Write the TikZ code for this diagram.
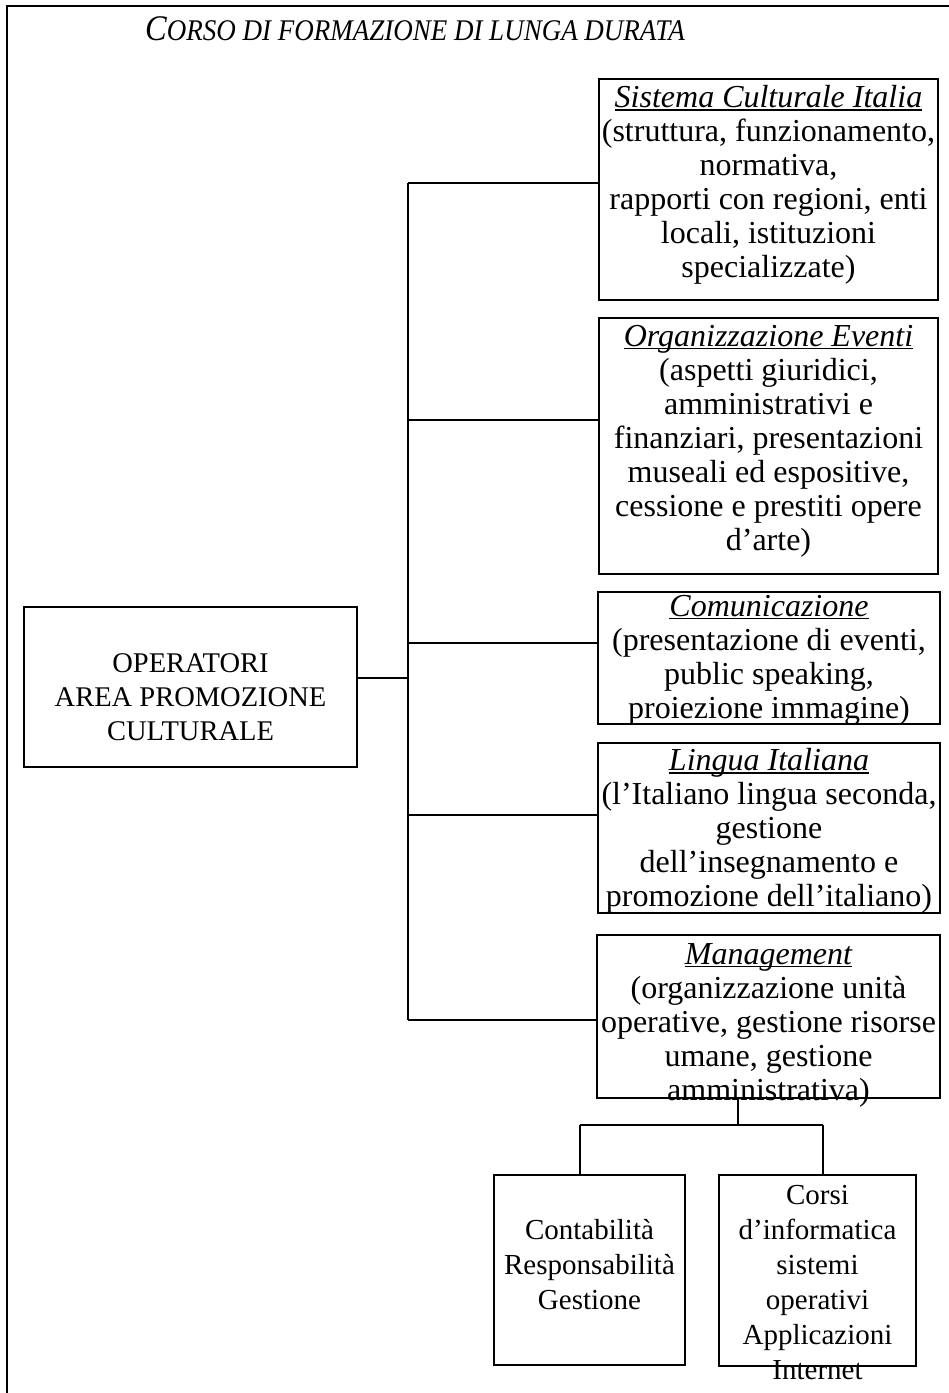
\documentclass[tikz,border=0pt]{standalone}
\usepackage{fontspec}
\setmainfont{Liberation Serif}
\newcommand\undl[1]{\setbox0\hbox{#1}\rlap{\rule[-2.8pt]{\wd0}{1.2pt}}\box0}
\begin{document}
\begin{tikzpicture}[x=1pt,y=-1pt,
  box/.style={draw, line width=1.4pt, inner sep=0pt, outer sep=0pt},
  rt/.style={align=center, inner sep=0pt, font=\fontsize{32}{34}\selectfont},
  lt/.style={align=center, inner sep=0pt, font=\fontsize{28.5}{34}\selectfont},
  bt/.style={align=center, inner sep=0pt, font=\fontsize{29}{35}\selectfont},
  conn/.style={line width=1.4pt}]
\useasboundingbox (0,0) rectangle (949,1393);
% frame
\draw[conn] (7,1393) -- (7,6) -- (949,6);
% title
\node[anchor=base west, inner sep=0pt] (title) at (145,40)
  {\scalebox{0.9}[1]{\itshape{\fontsize{36}{36}\selectfont C}\fontsize{30}{30}\selectfont ORSO DI FORMAZIONE DI LUNGA DURATA}};
% left box
\node[box, minimum width=333pt, minimum height=160pt] (left) at (190.5,687) {};
\node[lt] (leftT) at (190.5,697) {OPERATORI\\AREA PROMOZIONE\\CULTURALE};
% right boxes
\node[box, minimum width=339pt, minimum height=221pt] (b1) at (768.5,189.5) {};
\node[rt] (t1) at (768.5,185) {\undl{\itshape Sistema Culturale Italia}\\(struttura, funzionamento,\\normativa,\\rapporti con regioni, enti\\locali, istituzioni\\specializzate)};
\node[box, minimum width=339pt, minimum height=256pt] (b2) at (768.5,446) {};
\node[rt] (t2) at (768.5,441) {\undl{\itshape Organizzazione Eventi}\\(aspetti giuridici,\\amministrativi e\\finanziari, presentazioni\\museali ed espositive,\\cessione e prestiti opere\\d’arte)};
\node[box, minimum width=342pt, minimum height=132pt] (b3) at (769,658) {};
\node[rt] (t3) at (769,660) {\undl{\itshape Comunicazione}\\(presentazione di eventi,\\public speaking,\\proiezione immagine)};
\node[box, minimum width=342pt, minimum height=170pt] (b4) at (769,828) {};
\node[rt] (t4) at (769,831) {\undl{\itshape Lingua Italiana}\\(l’Italiano lingua seconda,\\gestione\\dell’insegnamento e\\promozione dell’italiano)};
\node[box, minimum width=343pt, minimum height=163pt] (b5) at (768.5,1016.5) {};
\node[rt] (t5) at (768.5,1025) {\undl{\itshape Management}\\(organizzazione unità\\operative, gestione risorse\\umane, gestione\\amministrativa)};
% bottom boxes
\node[box, minimum width=191pt, minimum height=190pt] (b6) at (589.5,1270) {};
\node[bt] (t6) at (589.5,1265) {Contabilità\\Responsabilità\\Gestione};
\node[box, minimum width=197pt, minimum height=191pt] (b7) at (817.5,1270.5) {};
\node[bt] (t7) at (817.5,1283) {Corsi\\d’informatica\\sistemi\\operativi\\Applicazioni\\Internet};
% trunk connectors
\coordinate (j0) at (408,678);
\coordinate (j1) at (408,183);
\coordinate (j2) at (408,420);
\coordinate (j3) at (408,643);
\coordinate (j4) at (408,815);
\coordinate (j5) at (408,1020);
\draw[conn] (left.east |- j0) -- (j0);
\draw[conn] (j1) -- (j5);
\draw[conn] (j1) -- (j1 -| b1.west);
\draw[conn] (j2) -- (j2 -| b2.west);
\draw[conn] (j3) -- (j3 -| b3.west);
\draw[conn] (j4) -- (j4 -| b4.west);
\draw[conn] (j5) -- (j5 -| b5.west);
% management sub-connectors
\coordinate (m1) at (738,1125);
\coordinate (mL) at (580,1125);
\coordinate (mR) at (823,1125);
\draw[conn] (m1 |- b5.south) -- (m1);
\draw[conn] (mL) -- (mR);
\draw[conn] (mL) -- (mL |- b6.north);
\draw[conn] (mR) -- (mR |- b7.north);
\end{tikzpicture}
\end{document}
